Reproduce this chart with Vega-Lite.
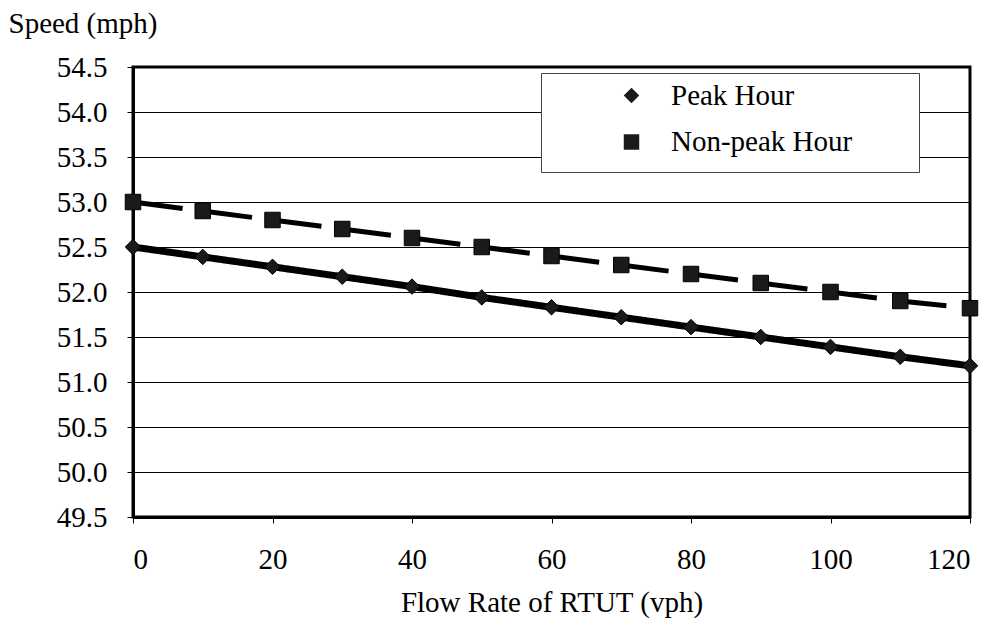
{
  "$schema": "https://vega.github.io/schema/vega-lite/v6.json",
  "width": 837,
  "height": 450,
  "autosize": {"type": "none"},
  "padding": {"left": 133, "top": 67, "right": 19, "bottom": 107},
  "background": "white",
  "config": {
    "view": {"stroke": "black", "strokeWidth": 3},
    "font": "Liberation Serif",
    "axis": {
      "labelFont": "Liberation Serif",
      "titleFont": "Liberation Serif",
      "labelFontSize": 29,
      "titleFontSize": 29,
      "titleFontWeight": "normal",
      "labelColor": "black",
      "titleColor": "black",
      "domainColor": "black",
      "domainWidth": 3,
      "tickColor": "black",
      "tickWidth": 1,
      "tickSize": 6
    }
  },
  "data": {
    "values": [
      {"flow": 0, "speed": 52.5, "period": "Peak Hour"},
      {"flow": 10, "speed": 52.39, "period": "Peak Hour"},
      {"flow": 20, "speed": 52.28, "period": "Peak Hour"},
      {"flow": 30, "speed": 52.17, "period": "Peak Hour"},
      {"flow": 40, "speed": 52.06, "period": "Peak Hour"},
      {"flow": 50, "speed": 51.94, "period": "Peak Hour"},
      {"flow": 60, "speed": 51.83, "period": "Peak Hour"},
      {"flow": 70, "speed": 51.72, "period": "Peak Hour"},
      {"flow": 80, "speed": 51.61, "period": "Peak Hour"},
      {"flow": 90, "speed": 51.5, "period": "Peak Hour"},
      {"flow": 100, "speed": 51.39, "period": "Peak Hour"},
      {"flow": 110, "speed": 51.28, "period": "Peak Hour"},
      {"flow": 120, "speed": 51.18, "period": "Peak Hour"},
      {"flow": 0, "speed": 53.0, "period": "Non-peak Hour"},
      {"flow": 10, "speed": 52.9, "period": "Non-peak Hour"},
      {"flow": 20, "speed": 52.8, "period": "Non-peak Hour"},
      {"flow": 30, "speed": 52.7, "period": "Non-peak Hour"},
      {"flow": 40, "speed": 52.6, "period": "Non-peak Hour"},
      {"flow": 50, "speed": 52.5, "period": "Non-peak Hour"},
      {"flow": 60, "speed": 52.4, "period": "Non-peak Hour"},
      {"flow": 70, "speed": 52.3, "period": "Non-peak Hour"},
      {"flow": 80, "speed": 52.2, "period": "Non-peak Hour"},
      {"flow": 90, "speed": 52.1, "period": "Non-peak Hour"},
      {"flow": 100, "speed": 52.0, "period": "Non-peak Hour"},
      {"flow": 110, "speed": 51.9, "period": "Non-peak Hour"},
      {"flow": 120, "speed": 51.82, "period": "Non-peak Hour"}
    ]
  },
  "encoding": {
    "x": {
      "field": "flow",
      "type": "quantitative",
      "scale": {"domain": [0, 120], "nice": false},
      "axis": {
        "title": "Flow Rate of RTUT (vph)",
        "values": [0, 20, 40, 60, 80, 100, 120],
        "grid": false,
        "labelPadding": 22,
        "titlePadding": 14
      }
    },
    "y": {
      "field": "speed",
      "type": "quantitative",
      "scale": {"domain": [49.5, 54.5], "nice": false, "zero": false},
      "axis": {
        "title": "Speed (mph)",
        "values": [49.5, 50, 50.5, 51, 51.5, 52, 52.5, 53, 53.5, 54, 54.5],
        "format": ".1f",
        "grid": true,
        "gridColor": "black",
        "gridWidth": 1,
        "labelPadding": 20,
        "titleAngle": 0,
        "titleAlign": "left",
        "titleBaseline": "alphabetic",
        "titleX": -125,
        "titleY": -35
      }
    }
  },
  "layer": [
    {
      "mark": {"type": "line", "color": "black", "strokeCap": "butt"},
      "encoding": {
        "strokeDash": {
          "field": "period",
          "type": "nominal",
          "scale": {"range": [[50, 20], [1, 0]]},
          "legend": null
        },
        "strokeWidth": {
          "field": "period",
          "type": "nominal",
          "scale": {"range": [5, 7]},
          "legend": null
        }
      }
    },
    {
      "mark": {"type": "point", "filled": true, "opacity": 1, "stroke": "black", "strokeWidth": 1, "size": 240, "fill": "#1a1a1a"},
      "encoding": {
        "shape": {
          "field": "period",
          "type": "nominal",
          "scale": {
            "domain": ["Peak Hour", "Non-peak Hour"],
            "range": [
              "M36,0M0,2.84M-1,0L0,-1L1,0L0,1Z",
              "M36,0M0,2.84M-1,-1L1,-1L1,1L-1,1Z"
            ]
          },
          "legend": {
            "orient": "none",
            "legendX": 408,
            "legendY": 6,
            "title": null,
            "padding": 8,
            "strokeColor": "#444",
            "fillColor": "white",
            "symbolSize": 240,
            "symbolFillColor": "#111",
            "symbolStrokeWidth": 0,
            "symbolOpacity": 1,
            "symbolOffset": 68,
            "labelFont": "Liberation Serif",
            "labelFontSize": 29,
            "labelColor": "black",
            "labelOffset": 25,
            "rowPadding": 9.5,
            "labelLimit": 400
          }
        }
      }
    }
  ]
}
